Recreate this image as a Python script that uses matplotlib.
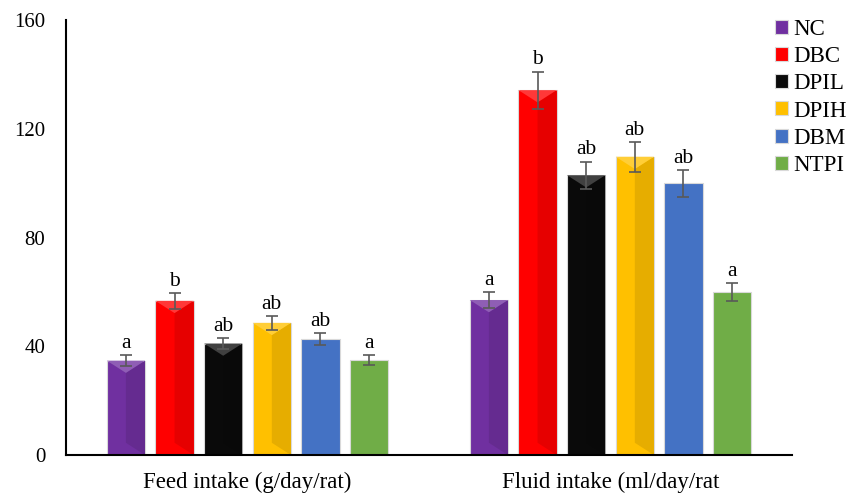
import numpy as np
import matplotlib
matplotlib.use('Agg')
import matplotlib.pyplot as plt
import matplotlib.colors as mcolors
from matplotlib.patches import Polygon

plt.rcParams['font.family'] = ['Liberation Serif', 'DejaVu Serif']

# Data
categories = ['Feed intake (g/day/rat)', 'Fluid intake (ml/day/rat']
groups = ['NC', 'DBC', 'DPIL', 'DPIH', 'DBM', 'NTPI']
feed_vals = [34.7, 56.7, 41.0, 48.6, 42.5, 34.8]
feed_err = [1.9, 3.0, 2.1, 2.5, 2.2, 1.8]
fluid_vals = [57.0, 134.2, 102.9, 109.7, 99.9, 60.0]
fluid_err = [3.0, 6.8, 5.0, 5.5, 5.0, 3.2]
feed_letters = ['a', 'b', 'ab', 'ab', 'ab', 'a']
fluid_letters = ['a', 'b', 'ab', 'ab', 'ab', 'a']

colors = ['#7030A0', '#FF0000', '#0A0A0A', '#FFC000', '#4472C4', '#70AD47']
bevel = [True, True, True, True, False, False]

fig = plt.figure(figsize=(8.59, 4.94), dpi=100)
ax = fig.add_axes([66 / 859, 39 / 494, 726 / 859, 435 / 494])

width = 0.105
step = 0.134
x = np.arange(len(categories))
values = np.array([feed_vals, fluid_vals])
errors = np.array([feed_err, fluid_err])
letters = [feed_letters, fluid_letters]


def shade(c, f):
    r, g, b = mcolors.to_rgb(c)
    if f > 1:
        return (r + (1 - r) * (f - 1), g + (1 - g) * (f - 1), b + (1 - b) * (f - 1))
    return (r * f, g * f, b * f)


for i, g in enumerate(groups):
    pos = x + (i - 2.5) * step
    ax.bar(pos, values[:, i], width, color=colors[i], edgecolor='#d9d9d9',
           linewidth=0.8, label=g, zorder=2)
    if bevel[i]:
        for p, h in zip(pos, values[:, i]):
            l, r = p - width / 2, p + width / 2
            d = 4.5
            # slightly darker right half
            ax.add_patch(Polygon([(p, d), (r, 0), (r, h), (p, h - d)],
                                 closed=True, color=shade(colors[i], 0.9),
                                 lw=0, zorder=2.1))
            # lighter top triangle
            ax.add_patch(Polygon([(l, h), (r, h), (p, h - d)], closed=True,
                                 color=shade(colors[i], 1.22), lw=0, zorder=2.2))
    ax.errorbar(pos, values[:, i], yerr=errors[:, i], fmt='none',
                ecolor='#595959', elinewidth=1.2, capsize=4, capthick=1.2,
                zorder=3)
    for j in range(len(categories)):
        ax.text(pos[j], values[j, i] + errors[j, i] + 0.8, letters[j][i],
                ha='center', va='bottom', fontsize=15.5, zorder=4)

ax.set_xlim(-0.5, 1.5)
ax.set_ylim(0, 160)
ax.set_yticks([0, 40, 80, 120, 160])
ax.set_xticks(x)
ax.set_xticklabels(categories, fontsize=16.5)
ax.tick_params(axis='y', labelsize=15, length=0, pad=15)
ax.tick_params(axis='x', length=0, pad=12)
for s in ['top', 'right']:
    ax.spines[s].set_visible(False)
ax.spines['left'].set_linewidth(1.5)
ax.spines['bottom'].set_linewidth(1.5)

leg = ax.legend(loc='upper left', frameon=False, fontsize=16.5,
                handlelength=0.56, handleheight=0.56, handletextpad=0.25,
                labelspacing=0.27, borderaxespad=0, borderpad=0)
leg.set_bbox_to_anchor((775 / 859, 475 / 494), transform=fig.transFigure)

fig.savefig('out.png', dpi=100)
